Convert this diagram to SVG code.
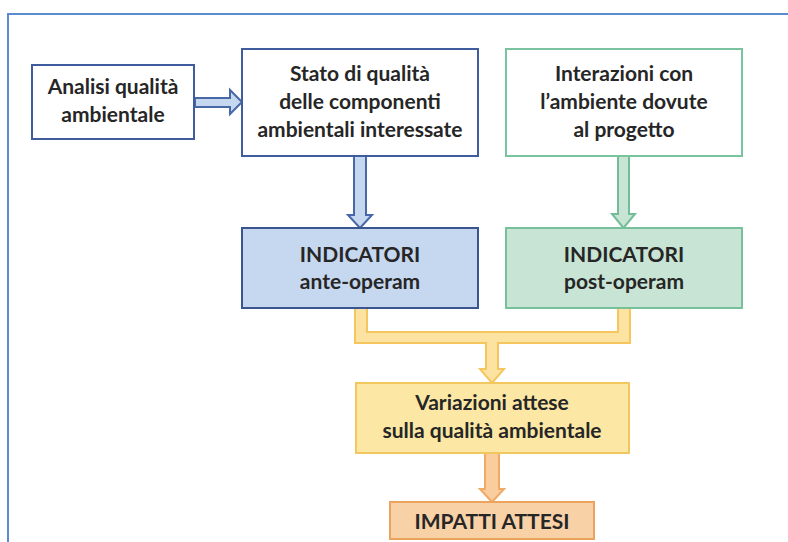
<svg xmlns="http://www.w3.org/2000/svg" width="788" height="542" viewBox="0 0 788 542">
<style>
text{font-family:Lato,"Liberation Sans",sans-serif;font-weight:bold;font-size:21px;fill:#262626;text-anchor:middle}
.blue{fill:#ffffff;stroke:#3f5c9c;stroke-width:2}
.green{fill:#ffffff;stroke:#79c39f;stroke-width:2}
.bluef{fill:#c6d7f0;stroke:#3a5592;stroke-width:2}
.greenf{fill:#c8e4d4;stroke:#78c09c;stroke-width:2}
.yellow{fill:#fce8a4;stroke:#f3c760;stroke-width:2}
.orange{fill:#f9d1a6;stroke:#eba35e;stroke-width:2}
.ab{fill:#c6d7f0;stroke:#4868a8;stroke-width:2;stroke-linejoin:miter}
.ag{fill:#c8e4d4;stroke:#72bd98;stroke-width:2}
.ay{fill:#fce3a2;stroke:#f5c65e;stroke-width:2}
.ao{fill:#f9cd9e;stroke:#f0aa66;stroke-width:2}
</style>
<rect x="8" y="14" width="800" height="600" fill="none" stroke="#5b8bd0" stroke-width="2"/>
<g id="connectors">
<path class="ab" d="M195,98 L230,98 L230,90 L242,102 L230,114 L230,107 L195,107 Z"/>
<path class="ab" d="M354,156 L366,156 L366,215 L372,215 L360,228 L348,215 L354,215 Z"/>
<path class="ag" d="M618,156 L629,156 L629,214 L635,214 L623.5,228 L612,214 L618,214 Z"/>
<path class="ay" d="M355,308 L367,308 L367,332 L618,332 L618,308 L630,308 L630,343 L498,343 L498,369 L504,369 L492,383 L480,369 L486,369 L486,343 L355,343 Z"/>
<path class="ao" d="M485,453 L499,453 L499,489 L504,489 L492,502 L480,489 L485,489 Z"/>
</g>
<g id="analisi">
<rect class="blue" x="32" y="65" width="162" height="74"/>
<text x="113" y="94">Analisi qualità</text>
<text x="113" y="122">ambientale</text>
</g>
<g id="stato">
<rect class="blue" x="242" y="49" width="236" height="107"/>
<text x="360" y="81">Stato di qualità</text>
<text x="360" y="109">delle componenti</text>
<text x="360" y="137">ambientali interessate</text>
</g>
<g id="interazioni">
<rect class="green" x="506" y="49" width="236" height="107"/>
<text x="624" y="81">Interazioni con</text>
<text x="624" y="109">l’ambiente dovute</text>
<text x="624" y="137">al progetto</text>
</g>
<g id="ante">
<rect class="bluef" x="242" y="228" width="236" height="80"/>
<text x="360" y="262">INDICATORI</text>
<text x="360" y="289">ante-operam</text>
</g>
<g id="post">
<rect class="greenf" x="506" y="228" width="236" height="80"/>
<text x="624" y="262">INDICATORI</text>
<text x="624" y="289">post-operam</text>
</g>
<g id="variazioni">
<rect class="yellow" x="356" y="383" width="273" height="70"/>
<text x="492" y="410">Variazioni attese</text>
<text x="492" y="438">sulla qualità ambientale</text>
</g>
<g id="impatti">
<rect class="orange" x="390" y="502" width="204" height="37"/>
<text x="492" y="529">IMPATTI ATTESI</text>
</g>
</svg>
